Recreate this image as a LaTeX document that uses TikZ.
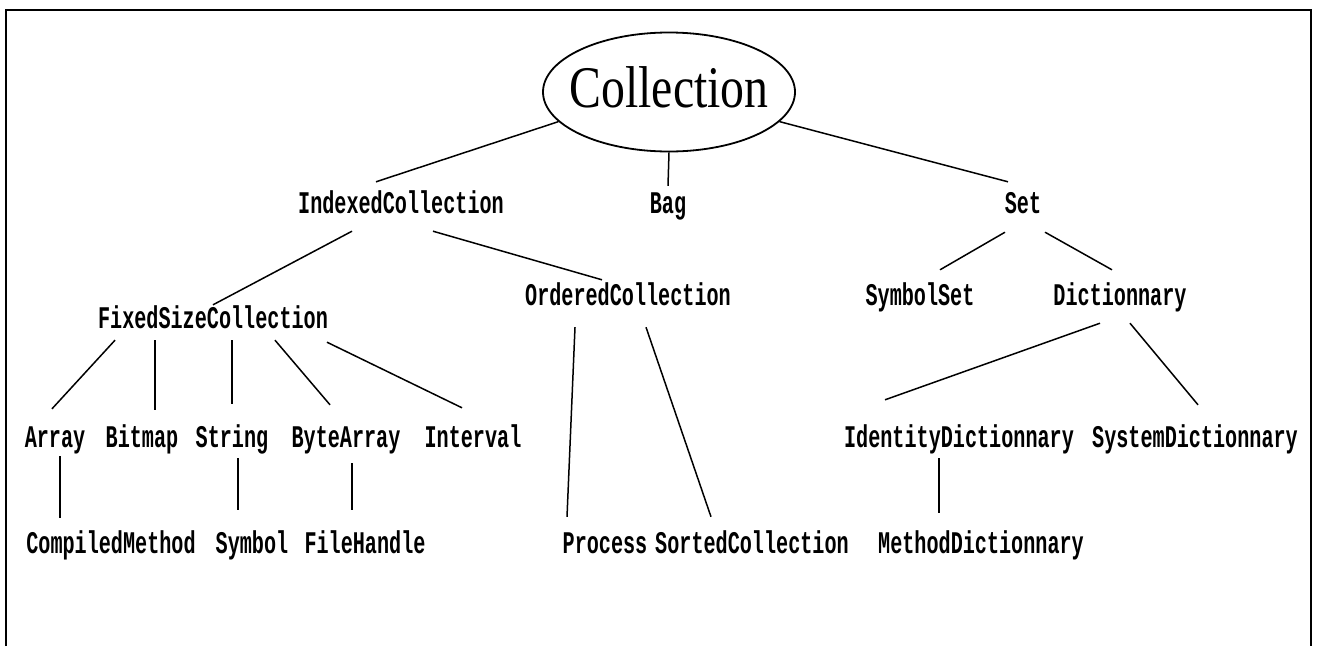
\documentclass[tikz,border=0pt]{standalone}
\usepackage{fontspec}
\newfontfamily\classfont[FakeStretch=0.64]{Liberation Mono}
\newfontfamily\rootfont[FakeStretch=0.81]{Liberation Serif}
\usetikzlibrary{shapes.geometric}

\begin{document}
\begin{tikzpicture}[x=1pt,y=-1pt,
	cls/.style={font={\classfont\bfseries\fontsize{31.5pt}{33pt}\selectfont},inner sep=0pt,text height=20pt,text depth=6pt,anchor=base},
	link/.style={line width=1.5pt}]
	
	\useasboundingbox (0,0) rectangle (1317,646);
	\draw[line width=2.5pt] (6,646) -- (6,10) -- (1311,10) -- (1311,646);
	
	\node[ellipse,draw,line width=1.8pt,minimum width=252pt,minimum height=119pt,inner ysep=0pt,inner xsep=-11pt,
		text height=40pt,text depth=10pt,font={\rootfont\fontsize{59pt}{60pt}\selectfont}] (col) at (669,92) {Collection};
	
	\node[cls] (ic) at (401,213) {IndexedCollection};
	\node[cls] (bag) at (668,213) {Bag};
	\node[cls] (set) at (1023,213) {Set};
	
	\node[cls] (fsc) at (213,328) {FixedSizeCollection};
	\node[cls] (oc) at (628,305) {OrderedCollection};
	\node[cls] (sset) at (920,305) {SymbolSet};
	\node[cls] (dict) at (1120,305) {Dictionnary};
	
	\node[cls] (arr) at (55,447) {Array};
	\node[cls] (bmp) at (142,447) {Bitmap};
	\node[cls] (str) at (232,447) {String};
	\node[cls] (barr) at (346,447) {ByteArray};
	\node[cls] (intv) at (473,447) {Interval};
	\node[cls] (idict) at (959,447) {IdentityDictionnary};
	\node[cls] (sdict) at (1195,447) {SystemDictionnary};
	
	\node[cls] (cm) at (111,553) {CompiledMethod};
	\node[cls] (sym) at (252,553) {Symbol};
	\node[cls] (fh) at (365,553) {FileHandle};
	\node[cls] (proc) at (605,553) {Process};
	\node[cls] (sc) at (752,553) {SortedCollection};
	\node[cls] (mdict) at (981,553) {MethodDictionnary};
	
	\draw[link] (col.195) -- ([xshift=-25pt,yshift=11pt]ic.north);
	\draw[link] (col.south) -- ([yshift=7pt]bag.north);
	\draw[link] (col.-15) -- ([xshift=-15pt,yshift=11pt]set.north);
	
	\draw[link] ([xshift=-49pt,yshift=-12pt]ic.south) -- ([yshift=3pt]fsc.north);
	\draw[link] ([xshift=32pt,yshift=-12pt]ic.south) -- ([xshift=-26pt,yshift=5pt]oc.north);
	\draw[link] ([xshift=-18pt,yshift=-13pt]set.south) -- ([xshift=20pt,yshift=15pt]sset.north);
	\draw[link] ([xshift=22pt,yshift=-13pt]set.south) -- ([xshift=-8pt,yshift=15pt]dict.north);
	
	\draw[link] ([xshift=-98pt,yshift=-6pt]fsc.south) -- ([xshift=-3pt,yshift=18pt]arr.north);
	\draw[link] ([xshift=-58pt,yshift=-6pt]fsc.south) -- ([xshift=13pt,yshift=17pt]bmp.north);
	\draw[link] ([xshift=19pt,yshift=-6pt]fsc.south) -- ([yshift=23pt]str.north);
	\draw[link] ([xshift=62pt,yshift=-6pt]fsc.south) -- ([xshift=-16pt,yshift=22pt]barr.north);
	\draw[link] ([xshift=114pt,yshift=-8pt]fsc.south) -- ([xshift=-11pt,yshift=19pt]intv.north);
	
	\draw[link] ([xshift=-53pt,yshift=-16pt]oc.south) -- ([xshift=-38pt,yshift=16pt]proc.north);
	\draw[link] ([xshift=18pt,yshift=-16pt]oc.south) -- ([xshift=-41pt,yshift=16pt]sc.north);
	\draw[link] ([xshift=-20pt,yshift=-12pt]dict.south) -- ([xshift=-74pt,yshift=27pt]idict.north);
	\draw[link] ([xshift=10pt,yshift=-12pt]dict.south) -- ([xshift=3pt,yshift=22pt]sdict.north);
	
	\draw[link] ([xshift=5pt,yshift=-3pt]arr.south) -- ([xshift=-51pt,yshift=15pt]cm.north);
	\draw[link] ([xshift=6pt,yshift=-5pt]str.south) -- ([xshift=-14pt,yshift=23pt]sym.north);
	\draw[link] ([xshift=6pt,yshift=-10pt]barr.south) -- ([xshift=-13pt,yshift=23pt]fh.north);
	\draw[link] ([xshift=-20pt,yshift=-5pt]idict.south) -- ([xshift=-42pt,yshift=20pt]mdict.north);
	
\end{tikzpicture}
\end{document}
